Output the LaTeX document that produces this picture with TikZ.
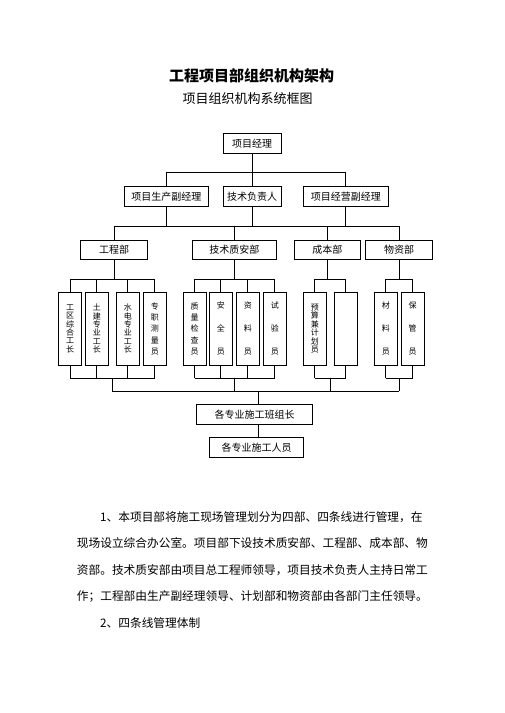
\documentclass[tikz,border=0pt]{standalone}
\usepackage{fontspec}
\setmainfont{Noto Sans CJK SC}
\usetikzlibrary{calc}
\tikzset{
    post/.style={draw, line width=0.8pt, minimum height=19.5pt, inner sep=0pt,
        font=\fontsize{10}{12}\selectfont},
    staff/.style={draw, line width=0.8pt, minimum width=23pt, minimum height=72.7pt,
        inner sep=0pt, align=center, font=\fontsize{8}{#1}\selectfont},
    wire/.style={line width=0.8pt},
    para/.style={anchor=west, inner sep=0pt, font=\fontsize{11.7}{14}\selectfont}
}

\begin{document}
\begin{tikzpicture}[x=1pt, y=-1pt]
    \useasboundingbox (0, 0) rectangle (504, 713);
    % Title
    \draw (251.5, 75.7) node[font=\fontsize{15}{18}\selectfont\bfseries] (Title) {工程项目部组织机构架构};
    \draw (247.7, 98.3) node[font=\fontsize{13}{16}\selectfont] (SubTitle) {项目组织机构系统框图};

    \draw (252.2, 143.3) node[post, minimum width=57.7pt] (Manager) {项目经理};
    \draw (166.3, 196.3) node[post, minimum width=84pt] (VpProd) {项目生产副经理};
    \draw (252.2, 196.3) node[post, minimum width=57.7pt] (TechLead) {技术负责人};
    \draw (345.8, 196.3) node[post, minimum width=85pt] (VpBiz) {项目经营副经理};

    \draw (114, 250) node[post, minimum width=67.4pt, minimum height=18.6pt] (Eng) {工程部};
    \draw (234.4, 250) node[post, minimum width=83.8pt, minimum height=18.6pt] (Qs) {技术质安部};
    \draw (327.3, 250) node[post, minimum width=66pt, minimum height=18.6pt] (Cost) {成本部};
    \draw (399, 250) node[post, minimum width=67.5pt, minimum height=18.6pt] (Mat) {物资部};

    \draw (70, 328.7) node[staff=8.4] (Foreman) {工\\区\\综\\合\\工\\长};
    \draw (96.8, 328.7) node[staff=8.4] (Civil) {土\\建\\专\\业\\工\\长};
    \draw (127.8, 328.7) node[staff=8.4] (Elec) {水\\电\\专\\业\\工\\长};
    \draw (154.8, 328.7) node[staff=11.3] (Survey) {专\\职\\测\\量\\员};
    \draw (194.5, 328.7) node[staff=11.3] (Inspect) {质\\量\\检\\查\\员};
    \draw (220.8, 328.7) node[staff=22.8] (Safety) {安\\全\\员};
    \draw (247.8, 328.7) node[staff=22.8] (Docs) {资\\料\\员};
    \draw (274.8, 328.7) node[staff=22.8] (Test) {试\\验\\员};
    \draw (314.8, 328.7) node[staff=8.4] (Budget) {预\\算\\兼\\计\\划\\员};
    \draw (345.8, 328.7) node[staff=8.4] (Blank) {};
    \draw (385.8, 328.7) node[staff=22.8] (Material) {材\\料\\员};
    \draw (412.7, 328.7) node[staff=22.8] (Keeper) {保\\管\\员};

    \draw (254.5, 414.2) node[post, minimum width=115.6pt] (Squad) {各专业施工班组长};
    \draw (256.5, 447.3) node[post, minimum width=93.6pt, minimum height=20pt] (Workers) {各专业施工人员};

    \coordinate (BarA) at (252.2, 172.7);
    \coordinate (BarB) at (252.2, 226.7);
    \coordinate (BarC) at (0, 279.3);
    \coordinate (BarD) at (0, 378.3);
    \coordinate (BarE) at (258.3, 391.3);

    \begin{scope}[wire]
        \draw (Manager.south) -- (BarA);
        \draw (VpProd.north) |- (BarA) -| (VpBiz.north);
        \draw (TechLead.north) -- (TechLead.north |- BarA);
        \foreach \n in {VpProd, TechLead, VpBiz}
            \draw (\n.south) -- (\n.south |- BarB);
        \draw (Eng.north) |- (BarB) -| (Mat.north);
        \foreach \n in {Qs, Cost}
            \draw (\n.north) -- (\n.north |- BarB);
        \foreach \n in {Eng, Qs, Cost, Mat}
            \draw (\n.south) -- (\n.south |- BarC);
        \foreach \n in {Foreman, Civil, Elec, Survey, Inspect, Safety, Docs, Test,
                Budget, Blank, Material, Keeper}
            \draw (\n.north) -- (\n.north |- BarC)
                (\n.south) -- (\n.south |- BarD);
        \foreach \a/\b in {Foreman/Survey, Inspect/Test, Budget/Blank, Material/Keeper} {
            \draw (\a.north |- BarC) -- (\b.north |- BarC);
            \draw (\a.south |- BarD) -- (\b.south |- BarD);
            \draw ($(\a.south |- BarD)!0.5!(\b.south |- BarD)$)
                -- ($(\a.south |- BarE)!0.5!(\b.south |- BarE)$);
        }
        \draw ($(Foreman.south |- BarE)!0.5!(Survey.south |- BarE)$)
            -- ($(Material.south |- BarE)!0.5!(Keeper.south |- BarE)$);
        \draw (Squad.north -| BarE) -- (BarE);
        \draw (Squad.south -| BarE) -- (Workers.north -| BarE);
    \end{scope}

    \draw (100, 516.7) node[para] (LineA) {1、本项目部将施工现场管理划分为四部、四条线进行管理，在};
    \draw (76.7, 543.3) node[para] (LineB) {现场设立综合办公室。项目部下设技术质安部、工程部、成本部、物};
    \draw (76.7, 570) node[para] (LineC) {资部。技术质安部由项目总工程师领导，项目技术负责人主持日常工};
    \draw (76.7, 596.7) node[para] (LineD) {作；工程部由生产副经理领导、计划部和物资部由各部门主任领导。};
    \draw (100, 623.3) node[para] (LineE) {2、四条线管理体制};
\end{tikzpicture}
\end{document}
